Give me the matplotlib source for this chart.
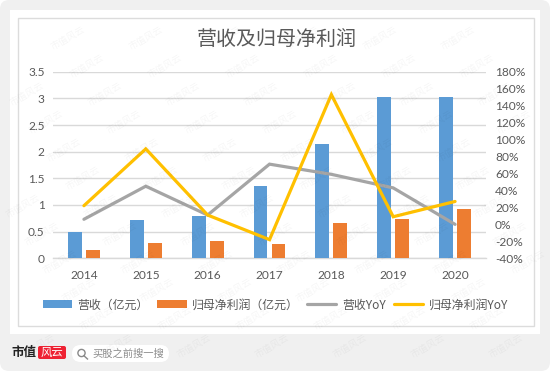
import matplotlib
matplotlib.use("Agg")
import matplotlib.pyplot as plt
from matplotlib.patches import FancyBboxPatch, Rectangle, Circle
from matplotlib.lines import Line2D
from matplotlib.ticker import FuncFormatter
import numpy as np

plt.rcParams['font.family'] = ['Noto Sans CJK SC', 'DejaVu Sans']

years = ['2014', '2015', '2016', '2017', '2018', '2019', '2020']
revenue = [0.50, 0.72, 0.80, 1.35, 2.14, 3.03, 3.03]
profit = [0.15, 0.29, 0.32, 0.26, 0.67, 0.73, 0.92]
revenue_yoy = [6, 45, 11, 71, 59, 43, 0]
profit_yoy = [22, 89, 11, -18, 153, 9, 27]
left_ticks = [0, 0.5, 1, 1.5, 2, 2.5, 3, 3.5]
right_ticks = [-40, -20, 0, 20, 40, 60, 80, 100, 120, 140, 160, 180]

W, H = 550, 371
fig = plt.figure(figsize=(W / 100, H / 100), dpi=100, facecolor='white')

# page background, in pixel coordinates
bg = fig.add_axes([0, 0, 1, 1], zorder=0)
bg.set_xlim(0, W); bg.set_ylim(H, 0); bg.axis('off')
bg.add_patch(FancyBboxPatch((0, 0), W, H, boxstyle='round,pad=0,rounding_size=9',
                            fc='#f0f0f0', ec='none'))
bg.add_patch(Rectangle((10, 10), 530, 324, fc='white', ec='none'))
bg.add_patch(Rectangle((17.5, 17.5), 516.5, 308.5, fc='white', ec='#dcdcdc', lw=1.0))

# plot area
L, R, T, B = 53, 486, 71.7, 258.3
ax = fig.add_axes([L / W, 1 - B / H, (R - L) / W, (B - T) / H], zorder=1)
ax.patch.set_alpha(0)
x = np.arange(len(years))
w, off = 0.225, 0.145
tc = '#595959'
latin = ['Lato', 'Noto Sans CJK SC']
ax.bar(x - off, revenue, w, color='#5B9BD5', zorder=3, label='营收（亿元）')
ax.bar(x + off, profit, w, color='#ED7D31', zorder=3, label='归母净利润（亿元）')
ax.set_xlim(-0.5, 6.5)
ax.set_ylim(0, 3.5)
ax.set_yticks(left_ticks)
ax.yaxis.set_major_formatter(FuncFormatter(lambda v, p: f'{v:g}'))
ax.set_xticks(x, years)
ax.grid(axis='y', color='#d9d9d9', lw=1.0, zorder=0)
ax.set_axisbelow(True)
for s in ['top', 'left', 'right']:
    ax.spines[s].set_visible(False)
ax.spines['bottom'].set_color('#d9d9d9')
ax.spines['bottom'].set_linewidth(1.0)
ax.tick_params(axis='both', length=0, labelcolor=tc)
ax.tick_params(axis='x', pad=8.5)
ax.tick_params(axis='y', pad=6)
for t in ax.get_xticklabels() + ax.get_yticklabels():
    t.set_family(latin); t.set_fontsize(8.6)

ax2 = ax.twinx()
ax2.patch.set_alpha(0)
ax2.plot(x, revenue_yoy, color='#A5A5A5', lw=2.3, solid_capstyle='round',
         solid_joinstyle='miter', label='营收YoY')
ax2.plot(x, profit_yoy, color='#FFC000', lw=2.3, solid_capstyle='round',
         solid_joinstyle='miter', label='归母净利润YoY')
ax2.set_ylim(-40, 180)
ax2.set_yticks(right_ticks)
ax2.yaxis.set_major_formatter(FuncFormatter(lambda v, p: f'{v:.0f}%'))
for s in ax2.spines.values():
    s.set_visible(False)
ax2.tick_params(axis='y', length=0, labelcolor=tc, pad=6.5)
for t in ax2.get_yticklabels():
    t.set_family(latin); t.set_fontsize(8.6)

fig.text(277 / W, 1 - 40.5 / H, '营收及归母净利润', ha='center', va='center',
         fontsize=14.4, color=tc, zorder=5)

h1, l1 = ax.get_legend_handles_labels()
h2, l2 = ax2.get_legend_handles_labels()
fig.legend(h1 + h2, l1 + l2, ncols=4, loc='center', bbox_to_anchor=(275.5 / W, 1 - 305 / H),
           frameon=False, fontsize=8.6, labelcolor=tc, handlelength=2.45, handleheight=0.65,
           handletextpad=0.45, columnspacing=0.7, borderpad=0)

# footer brand
ov = fig.add_axes([0, 0, 1, 1], zorder=6)
ov.set_xlim(0, W); ov.set_ylim(H, 0); ov.axis('off'); ov.patch.set_alpha(0)
ov.text(11, 352.5, '市值', fontsize=9.0, fontweight='bold', color='#222222', va='center')
ov.add_patch(FancyBboxPatch((38, 346), 28, 13, boxstyle='round,pad=0,rounding_size=2',
                            fc='#ee2233', ec='none'))
ov.text(52, 352.5, '风云', fontsize=8.2, color='white', va='center', ha='center')
ov.add_patch(FancyBboxPatch((72, 345), 97, 17, boxstyle='round,pad=0,rounding_size=8.5',
                            fc='white', ec='none'))
ov.add_patch(Circle((81.5, 353), 3.6, fc='none', ec='#8a8a8a', lw=1.0))
ov.add_line(Line2D([84, 87.5], [355.8, 359], color='#8a8a8a', lw=1.0))
ov.text(92, 353.5, '买股之前搜一搜', fontsize=7.4, color='#8c8c8c', va='center')

# tiled watermark, only where a whole tile fits on the page
for j in range(-1, 14):
    for i in range(-3, 9):
        px, py = 50 + 78 * i + 18.5 * j, 10 + 28 * j
        if 20 < px < W - 20 and 13 < py < H - 13:
            ov.text(px, py, '市值风云', fontsize=6.8, color='black', alpha=0.04,
                    rotation=30, ha='center', va='center', rotation_mode='anchor')

fig.savefig('out.png', dpi=100, facecolor='white')
